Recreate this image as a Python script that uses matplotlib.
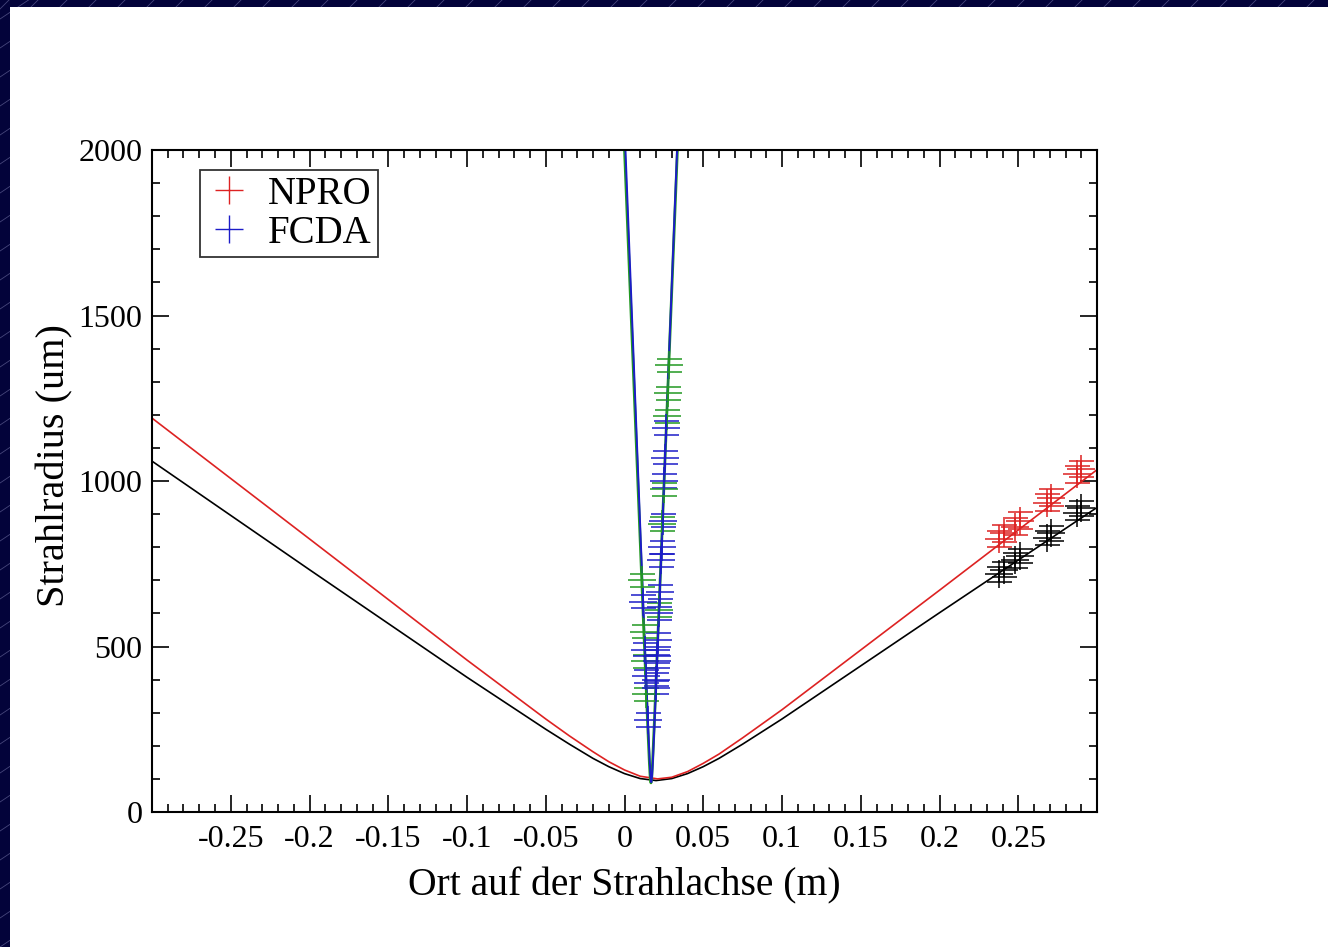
import matplotlib
matplotlib.use('Agg')
import matplotlib.pyplot as plt
from matplotlib.lines import Line2D
from matplotlib.patches import Rectangle
from matplotlib.ticker import MultipleLocator

plt.rcParams['font.family'] = ['Liberation Serif', 'DejaVu Serif']

# fitted beam radius curves (z in m, w in um)
npro_fit_z = [-0.30, -0.20, -0.10, -0.05, -0.035, -0.02, -0.01, 0.0, 0.01, 0.021,
              0.03, 0.04, 0.05, 0.06, 0.075, 0.10, 0.20, 0.30]
npro_fit_w = [1190, 825, 459, 281, 230, 182, 152, 127, 108, 100,
              105, 122, 147, 175, 224, 309, 670, 1034]

black_fit_z = [-0.30, -0.20, -0.10, -0.05, -0.035, -0.02, -0.01, 0.0, 0.01, 0.02,
               0.03, 0.04, 0.05, 0.06, 0.075, 0.10, 0.20, 0.30]
black_fit_w = [1060, 732, 407, 250, 205, 162, 137, 116, 101, 95,
               101, 116, 137, 162, 205, 281, 602, 920]

fcda_fit_z = [0.0, 0.004, 0.008, 0.012, 0.015, 0.016, 0.0165, 0.017, 0.0175,
              0.018, 0.019, 0.022, 0.026, 0.030, 0.034]
fcda_fit_w = [2074, 1589, 1102, 617, 260, 152, 109, 90, 109,
              152, 260, 617, 1102, 1589, 2074]

green_fit_z = [0.0, 0.004, 0.008, 0.012, 0.0148, 0.0158, 0.0163, 0.0168, 0.0173,
               0.0178, 0.0188, 0.0216, 0.0256, 0.0296, 0.0336]
green_fit_w = [2001, 1526, 1051, 578, 254, 148, 106, 88, 106,
               148, 254, 578, 1051, 1526, 2001]

# measured points
npro_z = [0.238, 0.241, 0.248, 0.251, 0.268, 0.271, 0.287, 0.290]
npro_w = [825, 842, 862, 880, 935, 950, 1020, 1036]
npro_err = [25, 25, 25, 25, 25, 25, 25, 25]

black_z = [0.238, 0.241, 0.248, 0.251, 0.268, 0.271, 0.287, 0.290]
black_w = [718, 732, 760, 774, 828, 842, 903, 917]
black_err = [22, 22, 22, 22, 22, 22, 22, 22]

fcda_z = [0.0118, 0.0130, 0.0136, 0.0147, 0.0265, 0.0258, 0.0252, 0.0242, 0.0236,
          0.0232, 0.0225, 0.0219, 0.0213, 0.0209, 0.0207, 0.0203, 0.0201]
fcda_w = [635, 490, 410, 278, 1160, 1070, 1000, 880, 800,
          760, 665, 600, 520, 470, 455, 400, 375]
fcda_err = [20] * len(fcda_w)

green_z = [0.0109, 0.0122, 0.0130, 0.0138, 0.0281, 0.0274, 0.0268, 0.0250, 0.0241, 0.0219]
green_w = [700, 545, 455, 355, 1350, 1265, 1195, 975, 870, 610]
green_err = [20] * len(green_w)

xtick_vals = [-0.25, -0.2, -0.15, -0.1, -0.05, 0, 0.05, 0.1, 0.15, 0.2, 0.25]
xtick_labels = ['-0.25', '-0.2', '-0.15', '-0.1', '-0.05', '0', '0.05', '0.1', '0.15', '0.2', '0.25']
ytick_vals = [0, 500, 1000, 1500, 2000]

RED = '#dd2222'
BLUE = '#1c1cc8'
GREEN = '#229922'

W, H = 1328, 947
fig = plt.figure(figsize=(W / 100, H / 100), dpi=100)
fig.patch.set_facecolor('#03033a')

# faint diagonal stripes of the slide background
for i in range(-10, 80):
    y0 = i * 29
    fig.add_artist(Line2D([0, 60], [y0, y0 + 40], transform=None, color='#8888bb',
                          lw=0.6, alpha=0.5, zorder=-3))
    fig.add_artist(Line2D([i * 29, i * 29 + 12], [H - 9, H + 3], transform=None,
                          color='#8888bb', lw=0.6, alpha=0.5, zorder=-3))
fig.add_artist(Rectangle((10 / W, 0), 1 - 10 / W, 1 - 7 / H, transform=fig.transFigure,
                         facecolor='white', edgecolor='none', zorder=-1))

ax = fig.add_axes([152 / W, 1 - 812 / H, 945 / W, 662 / H])
ax.set_facecolor('white')

ax.plot(black_fit_z, black_fit_w, color='black', lw=1.2)
ax.plot(npro_fit_z, npro_fit_w, color=RED, lw=1.2)
ax.plot(green_fit_z, green_fit_w, color=GREEN, lw=2.0)
ax.plot(fcda_fit_z, fcda_fit_w, color=BLUE, lw=1.4)

eb = dict(fmt='+', ms=20, mew=1.1, capsize=9, elinewidth=1.1, capthick=1.1)
ax.errorbar(black_z, black_w, yerr=black_err, color='black', **eb)
ax.errorbar(npro_z, npro_w, yerr=npro_err, color=RED, **eb)
ax.errorbar(green_z, green_w, yerr=green_err, color=GREEN, **eb)
ax.errorbar(fcda_z, fcda_w, yerr=fcda_err, color=BLUE, **eb)

ax.set_xlim(-0.3, 0.3)
ax.set_ylim(0, 2000)
ax.set_xticks(xtick_vals)
ax.set_xticklabels(xtick_labels)
ax.set_yticks(ytick_vals)
ax.xaxis.set_minor_locator(MultipleLocator(0.01))
ax.yaxis.set_minor_locator(MultipleLocator(100))
ax.tick_params(which='both', direction='in', top=True, right=True, width=1.2,
               labelsize=23, colors='black')
ax.tick_params(which='major', length=12)
ax.tick_params(which='minor', length=5.5)
ax.tick_params(axis='x', pad=9)
ax.tick_params(axis='y', pad=7)
for s in ax.spines.values():
    s.set_linewidth(1.5)

ax.set_xlabel('Ort auf der Strahlachse (m)', fontsize=28.5, labelpad=10)
ax.set_ylabel('Strahlradius (um)', fontsize=29)
ax.yaxis.set_label_coords(-0.083, 0.524)

handles = [Line2D([], [], ls='none', marker='+', ms=20, mew=1.0, color=RED),
           Line2D([], [], ls='none', marker='+', ms=20, mew=1.0, color=BLUE)]
leg = ax.legend(handles, ['NPRO', 'FCDA'], loc='upper left', bbox_to_anchor=(0.051, 0.97),
                borderaxespad=0, fontsize=28, frameon=True, fancybox=False,
                handletextpad=0.4, labelspacing=0.05, borderpad=0.15, handlelength=1.2)
leg.get_frame().set_edgecolor('black')
leg.get_frame().set_linewidth(1.3)

fig.savefig('out.png', dpi=100, facecolor=fig.get_facecolor())
